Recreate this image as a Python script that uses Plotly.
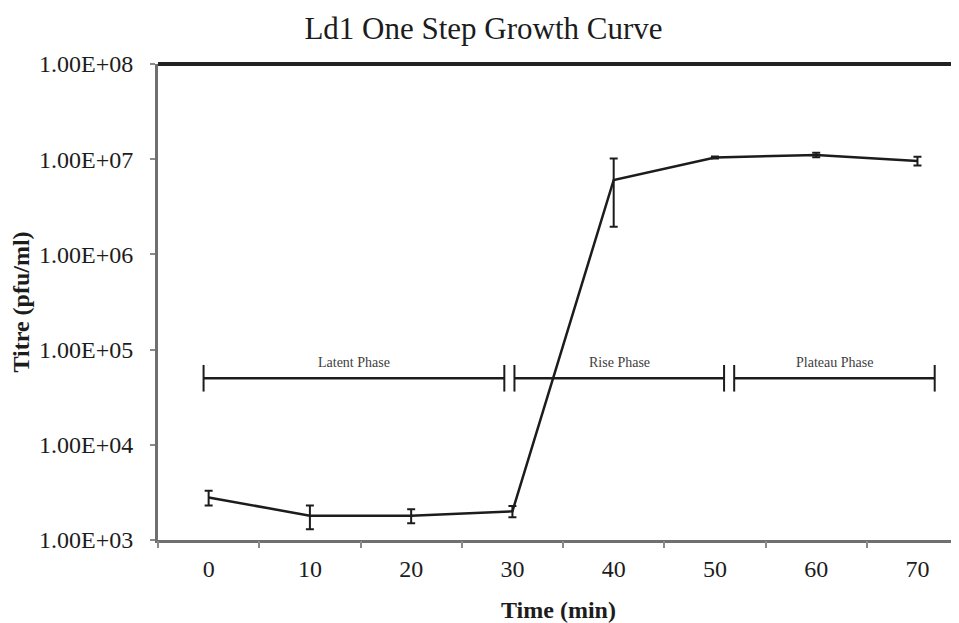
import math
import plotly.graph_objects as go

# ---- data ----
time_min = [0, 10, 20, 30, 40, 50, 60, 70]
titre = [2.8e3, 1.8e3, 1.8e3, 2.0e3, 6.05e6, 1.04e7, 1.11e7, 9.6e6]
titre_err = [5.0e2, 5.0e2, 3.0e2, 2.7e2, 4.1e6, 2.5e5, 6.0e5, 1.0e6]

phase_names = ["Latent Phase", "Rise Phase", "Plateau Phase"]
phase_start = [-0.5, 30.2, 51.9]
phase_end = [29.2, 50.9, 71.7]
phase_level = 5.0e4

y_tick_vals = [1e3, 1e4, 1e5, 1e6, 1e7, 1e8]
y_tick_text = ["1.00E+03", "1.00E+04", "1.00E+05", "1.00E+06", "1.00E+07", "1.00E+08"]
x_boundaries = [-5, 5, 15, 25, 35, 45, 55, 65, 75]

FONT = "Liberation Serif, Times New Roman, serif"
INK = "#1c1c1c"
AXIS = "#6f6f6f"

fig = go.Figure()

fig.add_trace(go.Scatter(
    x=time_min, y=titre, mode="lines",
    line=dict(color=INK, width=2.5),
    error_y=dict(type="data", array=titre_err, visible=True,
                 color=INK, thickness=2, width=4),
    showlegend=False, hoverinfo="skip",
))

for name, s, e in zip(phase_names, phase_start, phase_end):
    fig.add_trace(go.Scatter(
        x=[s, e], y=[phase_level, phase_level], mode="lines+markers",
        line=dict(color=INK, width=2.5),
        marker=dict(symbol="line-ns", size=19, line=dict(color=INK, width=2)),
        showlegend=False, hoverinfo="skip",
    ))
    fig.add_annotation(
        x=(s + e) / 2, y=math.log10(phase_level), text=name,
        showarrow=False, yanchor="bottom", yshift=6,
        font=dict(family=FONT, size=14, color="#404040"),
    )

# invisible trace to activate secondary x axis for boundary ticks
fig.add_trace(go.Scatter(x=[None], y=[None], xaxis="x2", showlegend=False, hoverinfo="skip"))

fig.update_layout(
    width=951, height=615,
    margin=dict(l=150, r=0, t=56, b=83, autoexpand=False),
    paper_bgcolor="white", plot_bgcolor="white",
    font=dict(family=FONT, color=INK),
    title=dict(text="Ld1 One Step Growth Curve", x=0.5, xanchor="center",
               y=0.967, yanchor="middle", yref="container",
               font=dict(family=FONT, size=31, color=INK)),
    xaxis=dict(
        range=[-5, 74.1], tickvals=time_min, ticktext=[str(t) for t in time_min],
        ticks="", showgrid=False, zeroline=False, automargin=False,
        showline=True, linecolor=AXIS, linewidth=3,
        ticklabelstandoff=5,
        tickfont=dict(family=FONT, size=24, color=INK),
        title=dict(text="<b>Time (min)</b>", standoff=21,
                   font=dict(family=FONT, size=24, color=INK)),
    ),
    xaxis2=dict(
        overlaying="x", matches="x", side="bottom", automargin=False,
        tickvals=x_boundaries, showticklabels=False,
        ticks="outside", ticklen=7, tickwidth=2, tickcolor="#8a8a8a",
        showgrid=False, zeroline=False, showline=False,
    ),
    yaxis=dict(
        type="log", range=[3, 8], tickvals=y_tick_vals, ticktext=y_tick_text,
        ticks="outside", ticklen=5, tickwidth=2, tickcolor="#8a8a8a",
        showgrid=False, zeroline=False, automargin=False,
        showline=True, linecolor=AXIS, linewidth=3,
        ticklabelstandoff=12,
        tickfont=dict(family=FONT, size=24, color=INK),
        title=dict(text="<b>Titre (pfu/ml)</b>", standoff=10,
                   font=dict(family=FONT, size=24, color=INK)),
    ),
    shapes=[dict(type="line", xref="paper", yref="paper", x0=0, x1=1, y0=1, y1=1,
                 line=dict(color="#222222", width=4))],
)

fig.write_html("out.html")
